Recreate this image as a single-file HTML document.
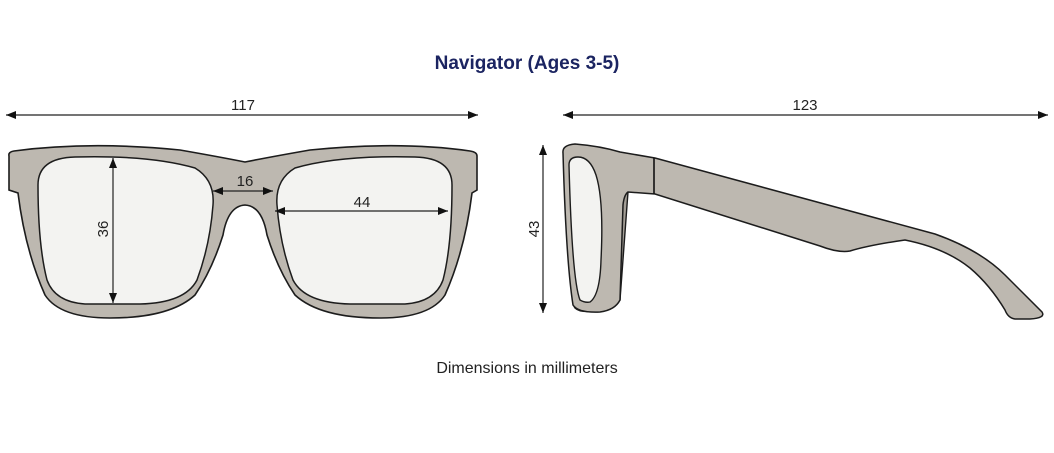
<!DOCTYPE html>
<html><head><meta charset="utf-8"><style>
html,body{margin:0;padding:0;background:#fff;width:1054px;height:453px;overflow:hidden}
svg{display:block}
text{font-family:"Liberation Sans",sans-serif}
</style></head><body>
<svg width="1054" height="453" viewBox="0 0 1054 453" xmlns="http://www.w3.org/2000/svg">
<defs>
<marker id="a" viewBox="0 0 10 8" refX="10" refY="4" markerWidth="10" markerHeight="8" markerUnits="userSpaceOnUse" orient="auto-start-reverse"><path d="M0,0L10,4L0,8z" fill="#111"/></marker>
</defs>
<text x="527" y="69" text-anchor="middle" font-size="19" font-weight="bold" fill="#1b2461">Navigator (Ages 3-5)</text>
<line x1="6" y1="115" x2="478" y2="115" stroke="#222" stroke-width="1.3" marker-start="url(#a)" marker-end="url(#a)"/>
<text x="243" y="110" text-anchor="middle" font-size="15" fill="#222">117</text>
<line x1="563" y1="115" x2="1048" y2="115" stroke="#222" stroke-width="1.3" marker-start="url(#a)" marker-end="url(#a)"/>
<text x="805" y="110" text-anchor="middle" font-size="15" fill="#222">123</text>

<path d="M9,156 Q8,152 14,151 Q90,141 180,150 Q220,157 245,162 Q270,157 310,150 Q400,141 470,151 Q477,152 477,156 L477,190 L472,193 Q465,250 445,295 Q430,318 380,318 Q320,318 295,295 Q278,270 267,235 Q262,206 245,205 Q228,206 223,235 Q212,270 195,295 Q170,318 110,318 Q60,318 45,295 Q25,250 18,193 L9,190 Z" fill="#bdb8b0" stroke="#1c1c1c" stroke-width="1.6"/>
<path d="M38,185 Q38,158 75,157 Q150,155 195,168 Q215,180 213,205 Q210,245 197,280 Q185,303 140,304 L85,304 Q55,302 47,280 Q38,245 38,185 Z" fill="#f3f3f1" stroke="#1c1c1c" stroke-width="1.5"/>
<path d="M452,185 Q452,158 415,157 Q340,155 295,168 Q275,180 277,205 Q280,245 293,280 Q305,303 350,304 L405,304 Q435,302 443,280 Q452,245 452,185 Z" fill="#f3f3f1" stroke="#1c1c1c" stroke-width="1.5"/>
<line x1="113" y1="158" x2="113" y2="303" stroke="#222" stroke-width="1.2" marker-start="url(#a)" marker-end="url(#a)"/>
<text transform="translate(108,229) rotate(-90)" text-anchor="middle" font-size="15" fill="#222">36</text>
<line x1="213" y1="191" x2="273" y2="191" stroke="#222" stroke-width="1.2" marker-start="url(#a)" marker-end="url(#a)"/>
<text x="245" y="186" text-anchor="middle" font-size="15" fill="#222">16</text>
<line x1="275" y1="211" x2="448" y2="211" stroke="#222" stroke-width="1.2" marker-start="url(#a)" marker-end="url(#a)"/>
<text x="362" y="207" text-anchor="middle" font-size="15" fill="#222">44</text>

<path d="M570,160 Q568,300 575,308 Q580,313 595,311 L620,300 L628,192 L622,160 Z" fill="#a39e96" stroke="#1c1c1c" stroke-width="1.4"/>
<path d="M563,153 Q562,145 575,144 Q600,146 620,152 L655,158 L935,234 Q980,250 1005,275 Q1030,300 1042,312 Q1046,318 1030,319 L1015,319 Q1008,318 1005,310 Q990,285 970,268 Q945,248 905,240 Q870,245 850,251 Q838,253 820,246 L655,194 L628,192 Q624,195 623,205 L620,300 Q615,310 600,312 Q578,313 573,305 Q566,260 563,153 Z" fill="#bdb8b0" stroke="#1c1c1c" stroke-width="1.5"/>
<line x1="654" y1="158" x2="654" y2="194" stroke="#111" stroke-width="1.6"/>
<path d="M569,165 Q569,157 578,157 Q590,157 596,175 Q604,200 601,260 Q600,295 590,302 Q585,303 580,300 Q572,280 569,165 Z" fill="#f3f3f1" stroke="#1c1c1c" stroke-width="1.4"/>
<line x1="543" y1="145" x2="543" y2="313" stroke="#222" stroke-width="1.2" marker-start="url(#a)" marker-end="url(#a)"/>
<text transform="translate(539,229) rotate(-90)" text-anchor="middle" font-size="15" fill="#222">43</text>

<text x="527" y="373" text-anchor="middle" font-size="16" fill="#222">Dimensions in millimeters</text>
</svg>
</body></html>
